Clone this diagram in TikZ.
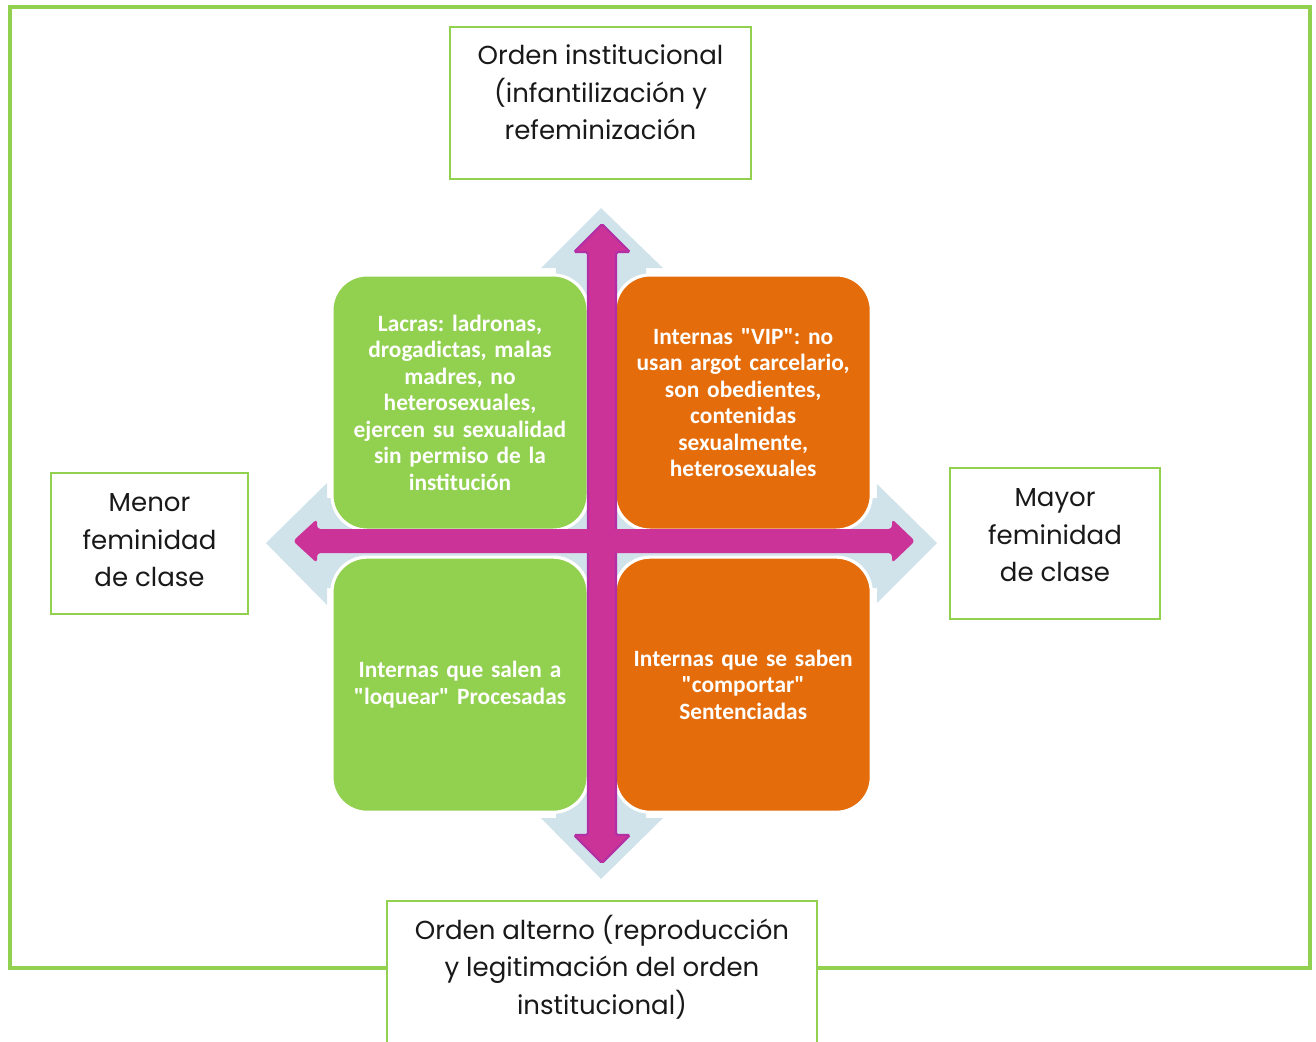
\documentclass[tikz,border=0pt]{standalone}
\usepackage{fontspec}
\setmainfont{Poppins}
\newfontfamily\calibri{Carlito}
\usepackage{xcolor}
\usetikzlibrary{positioning}

\definecolor{verde}{HTML}{92D050}
\definecolor{naranja}{HTML}{E46C0A}
\definecolor{fucsia}{HTML}{CC3399}
\definecolor{fucsiaosc}{HTML}{B22FA4}
\definecolor{celeste}{HTML}{D0E2EA}

\begin{document}
\frenchspacing
\lineskiplimit=-20pt
\begin{tikzpicture}[x=0.01cm,y=-0.01cm]

\tikzset{caja/.style={draw=verde, line width=0.6pt, fill=white, inner sep=0pt, outer sep=0pt},
cajatxt/.style={align=center, inner sep=0pt, text=black!90, font=\fontsize{7.4}{10.7}\selectfont},
%the four coloured squares
cuadro/.style={draw=white, line width=0.9pt, rounded corners=0.35cm, minimum width=2.56cm, minimum height=2.55cm, outer sep=0pt, inner sep=0pt, text width=2.45cm, align=center, text=white, font=\calibri\bfseries\fontsize{6.65}{7.54}\selectfont}}

\useasboundingbox (0,0) rectangle (1316,1041);

\draw[verde, line width=1.14pt] (10,7) rectangle (1310,968);

% blue cross behind
\fill[celeste] (601,208) -- (663,268) -- (646,268) -- (646,498) -- (877,498) -- (877,484) -- (937,543) -- (877,603) -- (877,588) -- (646,588) -- (646,818) -- (663,818) -- (601,879) -- (541,818) -- (556,818) -- (556,588) -- (327,588) -- (327,605) -- (266,543) -- (327,483) -- (327,498) -- (556,498) -- (556,268) -- (541,268) -- cycle;

\node[cuadro, fill=verde] (lacras) at (460,402.5) {Lacras: ladronas,\\ drogadictas, malas\\ madres, no\\ heterosexuales,\\ ejercen su sexualidad\\ sin permiso de la\\ institución};
\node[cuadro, fill=naranja, right=0.27cm of lacras] (vip) {Internas "VIP": no\\ usan argot carcelario,\\ son obedientes,\\ contenidas\\ sexualmente,\\ heterosexuales};
\node[cuadro, fill=verde, below=0.27cm of lacras] (loquear) {Internas que salen a\\ "loquear" Procesadas};
\node[cuadro, fill=naranja, right=0.27cm of loquear] (comportar) {Internas que se saben\\ "comportar"\\ Sentenciadas};

% magenta axes
\filldraw[fill=fucsia, draw=fucsiaosc, line width=0.6pt, rounded corners=0.5pt] (602,224) -- (630,252) -- (616,252) -- (616,835) -- (630,835) -- (602,863) -- (574,835) -- (588,835) -- (588,252) -- (574,252) -- cycle;
\fill[fucsia, rounded corners=1pt] (293,541) -- (317,519) -- (317,529) -- (892,529) -- (892,519) -- (915,541) -- (892,563) -- (892,553) -- (317,553) -- (317,563) -- cycle;

% boxes with the labels
\node[caja, minimum width=3.01cm, minimum height=1.52cm] (instit) at (600.5,103) {};
\node[cajatxt, below=0.17cm of instit.north] (institxt) {Orden institucional\\ (infantilización y\\ refeminización};

\node[caja, minimum width=4.30cm, minimum height=1.60cm, anchor=north] (alterno) at (602,901) {};
\node[cajatxt, below=0.13cm of alterno.north] (alternotxt) {Orden alterno (reproducción\\ y legitimación del orden\\ institucional)};

\node[caja, minimum width=1.97cm, minimum height=1.41cm] (menor) at (149.5,543.5) {};
\node[cajatxt, below=0.20cm of menor.north] (menortxt) {Menor\\ feminidad\\ de clase};

\node[caja, minimum width=2.10cm, minimum height=1.51cm] (mayor) at (1055,543.5) {};
\node[cajatxt, below=0.20cm of mayor.north] (mayortxt) {Mayor\\ feminidad\\ de clase};

\end{tikzpicture}
\end{document}
